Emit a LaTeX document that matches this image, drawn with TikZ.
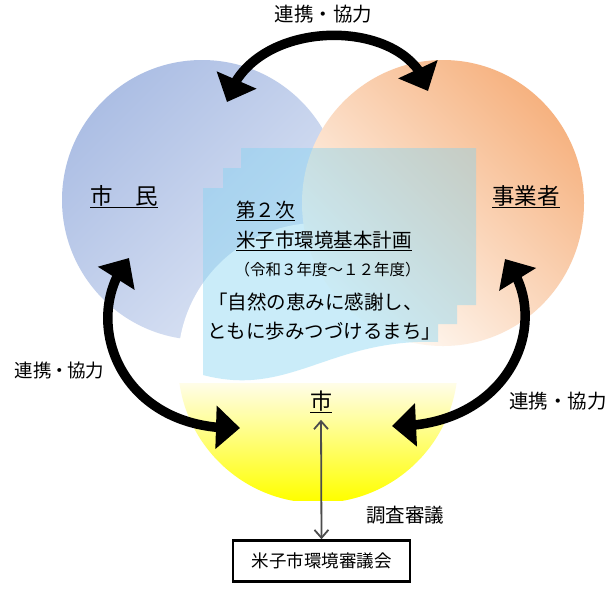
\documentclass[tikz,border=0pt]{standalone}
\usepackage{fontspec}
\setmainfont{Noto Sans CJK JP}
\usetikzlibrary{arrows.meta,bending}
\definecolor{bluetop}{RGB}{172,190,228}
\definecolor{bluebot}{RGB}{222,230,245}
\definecolor{orgtop}{RGB}{246,178,128}
\definecolor{orgbot}{RGB}{255,252,248}
\definecolor{yeltop}{RGB}{255,253,232}
\definecolor{yelbot}{RGB}{255,255,0}
\definecolor{docfill}{RGB}{130,212,242}
\newlength\ulwd
\newcommand\myul[1]{\settowidth\ulwd{#1}\rlap{#1}\rule[-3.2pt]{\ulwd}{1.1pt}}
\begin{document}
\begin{tikzpicture}[x=1pt,y=-1pt,
  lbl/.style={inner sep=0pt},
  bigarr/.style={line width=9.5pt, >={Triangle[width=42pt,length=24pt]}, <->},
  thinarr/.style={line width=1.8pt, draw=black!70, >={Straight Barb[length=8pt,width=14pt,line width=1.8pt]}, <->},
  boxnode/.style={draw, line width=2.6pt, minimum width=177pt, minimum height=41pt, inner sep=0pt}]
\fill[white] (0,0) rectangle (607,590);
\useasboundingbox (0,0) rectangle (607,590);
% circles
\shade[top color=bluetop,bottom color=bluebot,shading angle=45] (202,200) circle (140);
\fill[white] (318,363) circle (140);
\begin{scope}
\clip (318,363) circle (140);
\shade[top color=yeltop,bottom color=yelbot] (170,383) rectangle (470,500);
\end{scope}
\shade[top color=orgtop,bottom color=orgbot,shading angle=-45] (443,203) ellipse (141 and 143);
% multidocument shape
\fill[docfill,fill opacity=0.42] (241,148) -- (476,148) -- (476,305) -- (457,305) -- (457,324) -- (438,324) -- (438,342)
  .. controls (330,338) and (290,398) .. (203,375) -- (203,188) -- (223,188) -- (223,168) -- (241,168) -- cycle;
% texts
\node[lbl,anchor=base] (tlabel) at (323.5,21.2) {\fontsize{19.5}{20}\selectfont 連携・協力};
\node[lbl,anchor=base west] (llabel) at (14.5,377) {\fontsize{18.5}{20}\selectfont 連携\kern-1.5pt・\kern-1.5pt協力};
\node[lbl,anchor=base west] (rlabel) at (509,408.5) {\fontsize{19.5}{20}\selectfont 連携・協力};
\node[lbl,anchor=base] (shimin) at (124,204.5) {\fontsize{22.5}{24}\selectfont\myul{市　民}};
\node[lbl,anchor=base] (jigyo) at (526,204.5) {\fontsize{22.5}{24}\selectfont\myul{事業者}};
\node[lbl,anchor=base west] (t1) at (236,217.4) {\fontsize{19.5}{20}\selectfont\myul{第２次}};
\node[lbl,anchor=base west] (t2) at (236,247.4) {\fontsize{19.5}{20}\selectfont\myul{米子市環境基本計画}};
\node[lbl,anchor=base west] (t3) at (234.5,275.9) {\fontsize{15.5}{16}\selectfont （令和３年度～１２年度）};
\node[lbl,anchor=base west] (t4) at (208,309) {\fontsize{19.5}{20}\selectfont 「自然の恵みに感謝し、};
\node[lbl,anchor=base west] (t5) at (207,338.4) {\fontsize{19.5}{20}\selectfont ともに歩みつづけるまち」};
\node[lbl,anchor=base] (city) at (321,409.4) {\fontsize{22}{24}\selectfont\myul{市}};
\node[lbl,anchor=base] (chousa) at (405,522.4) {\fontsize{19.5}{20}\selectfont 調査審議};
\node[boxnode] (council) at (321.5,561) {\fontsize{17.5}{18}\selectfont 米子市環境審議会};
% arrows
\coordinate (tA) at (227,102);
\coordinate (tB) at (428,91);
\coordinate (lA) at (129,258);
\coordinate (lB) at (240,428);
\coordinate (rA) at (505,259);
\coordinate (rB) at (392,426);
\draw[bigarr] (tA) .. controls (250,15) and (410,15) .. (tB);
\draw[bigarr] (lA) .. controls (79,318) and (118,432) .. (lB);
\draw[bigarr] (rA) .. controls (555,320) and (510,428) .. (rB);
\draw[thinarr] ([yshift=-7pt]city.south) -- (council.north);
\end{tikzpicture}
\end{document}
